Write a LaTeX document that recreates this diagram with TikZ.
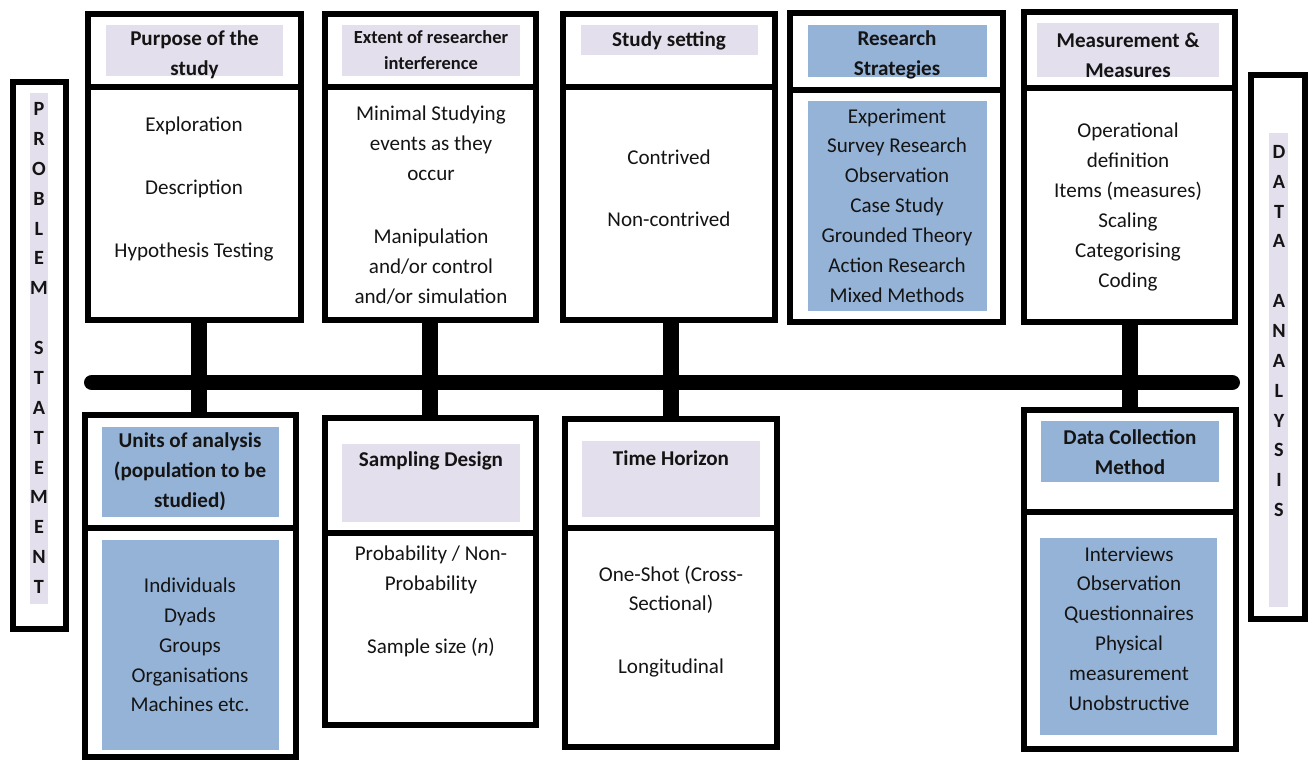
\documentclass[tikz,border=0pt]{standalone}
\usepackage{fontspec}
\setmainfont{Carlito}
\usetikzlibrary{positioning}
\definecolor{lav}{HTML}{E4DFEC}
\definecolor{sky}{HTML}{95B3D7}
\definecolor{ink}{HTML}{141414}

\begin{document}
\begin{tikzpicture}[x = 0.02cm, y = -0.02cm,
        boxframe/.style 2 args = {draw, line width = 3.4pt, inner sep = 0pt,
            minimum width = #1*0.02cm, minimum height = #2*0.02cm},
        head/.style = {text = ink, align = center, font = \fontsize{12}{17}\selectfont\bfseries},
        smallhead/.style = {text = ink, align = center, font = \fontsize{10.5}{14.8}\selectfont\bfseries},
        body/.style = {text = ink, align = center, font = \fontsize{12}{17}\selectfont},
        letters/.style = {text = ink, align = center, font = \fontsize{11.5}{17}\selectfont\bfseries},
        link/.style = {line width = 9.1pt},
        spine/.style = {line width = 9.1pt, line cap = round}]
        \useasboundingbox (0,0) rectangle (1313,760);
        % coloured panels
        \fill[lav](106,25) rectangle(283,76);
        \fill[lav](342,25) rectangle(520,76);
        \fill[lav](581,25) rectangle(758,55);
        \fill[sky](808,25) rectangle(987,77);
        \fill[sky](808,101) rectangle(987,311);
        \fill[lav](1037,23) rectangle(1219,77);
        \fill[sky](102,427) rectangle(279,517);
        \fill[sky](102,540) rectangle(279,750);
        \fill[lav](342,444) rectangle(520,522);
        \fill[lav](582,441) rectangle(760,517);
        \fill[sky](1041,421) rectangle(1219,482);
        \fill[sky](1040,538) rectangle(1217,735);
        \fill[lav](30,93) rectangle(48,604);
        \fill[lav](1269,133) rectangle(1288,607);
        % top row
        \node[boxframe = {213}{73}](purH) at (194.5,50.5){};
        \node[boxframe = {213}{233}](purB) at (194.5,203.5){};
        \node[boxframe = {211}{73}](extH) at (430.5,50.5){};
        \node[boxframe = {211}{233}](extB) at (430.5,203.5){};
        \node[boxframe = {212}{73}](setH) at (669,50.5){};
        \node[boxframe = {212}{233}](setB) at (669,203.5){};
        \node[boxframe = {213}{77}](strH) at (896.5,51.5){};
        \node[boxframe = {213}{232}](strB) at (896.5,206){};
        \node[boxframe = {211}{76}](meaH) at (1129.5,50){};
        \node[boxframe = {211}{234}](meaB) at (1129.5,205){};
        % bottom row
        \node[boxframe = {211}{113}](uniH) at (190.5,471.5){};
        \node[boxframe = {211}{229}](uniB) at (190.5,642.5){};
        \node[boxframe = {211}{115}](samH) at (430.5,475.5){};
        \node[boxframe = {211}{192}](samB) at (430.5,629){};
        \node[boxframe = {212}{109}](timH) at (671,473.5){};
        \node[boxframe = {212}{219}](timB) at (671,637.5){};
        \node[boxframe = {212}{102}](datH) at (1130,461){};
        \node[boxframe = {212}{237}](datB) at (1130,630.5){};
        % side columns
        \node[boxframe = {53}{547}](prob) at (39.5,355.5){};
        \node[boxframe = {54}{544}](anal) at (1278,347){};
        % spine and links
        \coordinate(SL)at(92,382.5);
        \coordinate(SR)at(1232,382.5);
        \coordinate(L1)at(199,0);
        \coordinate(L2)at(430,0);
        \coordinate(L3)at(671,0);
        \coordinate(L4)at(1130,0);
        \draw[link](L1 |- purB.south) -- (L1 |- uniH.north);
        \draw[link](L2 |- extB.south) -- (L2 |- samH.north);
        \draw[link](L3 |- setB.south) -- (L3 |- timH.north);
        \draw[link](L4 |- meaB.south) -- (L4 |- datH.north);
        \draw[spine](SL) -- (SR);
        % headings
        \node[head](purT) at (194.5,55){Purpose of the\\study};
        \node[smallhead](extT) at (431,50.5){Extent of researcher\\interference};
        \node[head](setT) at (669,41){Study setting};
        \node[head](strT) at (897,55){Research\\Strategies};
        \node[head](meaT) at (1128,55){Measurement \&\\Measures};
        \node[head](uniT) at (190,472){Units of analysis\\(population to be\\studied)};
        \node[head](samT) at (431,461){Sampling Design};
        \node[head](timT) at (671,458){Time Horizon};
        \node[head](datT) at (1130,452){Data Collection\\Method};
        % contents
        \node[body](purX) at (194,189){Exploration\\[18.8pt]Description\\[18.8pt]Hypothesis Testing};
        \node[body](extX) at (431,205){Minimal Studying\\events as they\\occur\\[19pt]Manipulation\\and/or control\\and/or simulation};
        \node[body](setX) at (669,188){Contrived\\[18.2pt]Non-contrived};
        \node[body](strX) at (897,205.5){Experiment\\Survey Research\\Observation\\Case Study\\Grounded Theory\\Action Research\\Mixed Methods};
        \node[body](meaX) at (1128,207){Operational\\definition\\Items (measures)\\Scaling\\Categorising\\Coding};
        \node[body](uniX) at (190,645){Individuals\\Dyads\\Groups\\Organisations\\Machines etc.};
        \node[body](samX) at (431,601){Probability / Non-\\Probability\\[18.8pt]Sample size (\textit{n})};
        \node[body](timX) at (671,621.5){One-Shot (Cross-\\Sectional)\\[18.8pt]Longitudinal};
        \node[body](datX) at (1129,628.5){Interviews\\Observation\\Questionnaires\\Physical\\measurement\\Unobstructive};
        % side letters
        \node[letters](probT) at (39,348){P\\R\\O\\B\\L\\E\\M\\[17pt]S\\T\\A\\T\\E\\M\\E\\N\\T};
        \node[letters](analT) at (1279,331){D\\A\\T\\A\\[17pt]A\\N\\A\\L\\Y\\S\\I\\S};
    \end{tikzpicture}
\end{document}
